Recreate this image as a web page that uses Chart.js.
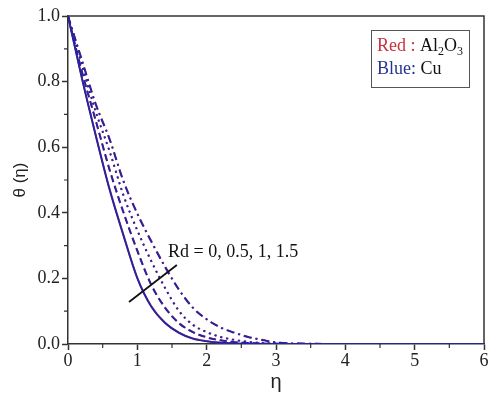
<!DOCTYPE html>
<html>
<head>
<meta charset="utf-8">
<script src="https://cdn.jsdelivr.net/npm/chart.js@4.4.1/dist/chart.umd.min.js"></script>
<style>
  html, body { margin: 0; padding: 0; background: #fff; }
  #wrap { width: 489px; height: 394px; }
</style>
</head>
<body>
<div id="wrap"><canvas id="tempChart" width="489" height="394"></canvas></div>
<script>
// eta grid and theta(eta)
var eta = [0, 0.2, 0.4, 0.6, 0.8, 1.0, 1.2, 1.4, 1.6, 1.8, 2.0, 2.2, 2.4, 2.6, 2.8, 3.0, 3.5, 4, 5, 6];

// Cu (blue)
var cuRd0  = [1, 0.810, 0.635, 0.470, 0.330, 0.200, 0.114, 0.064, 0.034, 0.016, 0.008, 0.004, 0.002, 0.001, 0.0005, 0, 0, 0, 0, 0];
var cuRd05 = [1, 0.830, 0.680, 0.530, 0.400, 0.283, 0.180, 0.110, 0.063, 0.036, 0.020, 0.011, 0.006, 0.003, 0.0015, 0.001, 0, 0, 0, 0];
var cuRd1  = [1, 0.850, 0.707, 0.586, 0.452, 0.345, 0.252, 0.170, 0.100, 0.058, 0.036, 0.021, 0.012, 0.006, 0.003, 0.0015, 0, 0, 0, 0];
var cuRd15 = [1, 0.865, 0.730, 0.623, 0.495, 0.396, 0.312, 0.234, 0.165, 0.110, 0.075, 0.050, 0.034, 0.021, 0.012, 0.005, 0.001, 0, 0, 0];

// Al2O3 (red)
var alRd0  = [1, 0.812, 0.638, 0.473, 0.333, 0.202, 0.116, 0.065, 0.035, 0.017, 0.009, 0.004, 0.002, 0.001, 0.0005, 0, 0, 0, 0, 0];
var alRd05 = [1, 0.832, 0.683, 0.533, 0.403, 0.286, 0.182, 0.112, 0.065, 0.037, 0.021, 0.012, 0.006, 0.003, 0.0015, 0.001, 0, 0, 0, 0];
var alRd1  = [1, 0.852, 0.710, 0.589, 0.455, 0.348, 0.255, 0.172, 0.102, 0.060, 0.037, 0.022, 0.013, 0.007, 0.003, 0.0015, 0, 0, 0, 0];
var alRd15 = [1, 0.867, 0.733, 0.626, 0.498, 0.399, 0.315, 0.237, 0.167, 0.112, 0.076, 0.051, 0.035, 0.022, 0.013, 0.005, 0.001, 0, 0, 0];

var rdLabels = ['Rd = 0', 'Rd = 0.5', 'Rd = 1', 'Rd = 1.5'];
var dashes = [[], [7, 4], [2, 4], [8, 4, 2, 4]];

var xTicks = [0, 1, 2, 3, 4, 5, 6];
var yTicks = [0, 0.2, 0.4, 0.6, 0.8, 1.0];

// annotation line crossing the curves, and its label
var annotFrom = [0.88, 0.128];
var annotTo = [1.57, 0.241];
var annotText = 'Rd = 0, 0.5, 1, 1.5';

var RED = '#a0286e';
var BLUE = '#2424a0';

function pts(ys) {
  return eta.map(function (x, i) { return { x: x, y: ys[i] }; });
}

var alSets = [alRd0, alRd05, alRd1, alRd15];
var cuSets = [cuRd0, cuRd05, cuRd1, cuRd15];
var datasets = [];
// red (Al2O3) underneath, blue (Cu) on top
alSets.forEach(function (s, i) {
  datasets.push({ label: 'Al2O3 ' + rdLabels[i], data: pts(s), borderColor: RED, borderWidth: 1.8, borderDash: dashes[i], order: 2 });
});
cuSets.forEach(function (s, i) {
  datasets.push({ label: 'Cu ' + rdLabels[i], data: pts(s), borderColor: BLUE, borderWidth: 1.8, borderDash: dashes[i], order: 1 });
});
datasets.forEach(function (d) {
  d.pointRadius = 0;
  d.fill = false;
  d.cubicInterpolationMode = 'monotone';
});

var serif = '"Liberation Serif"';
var sans = '"Liberation Sans"';
var AX = '#333';

// frame, minor ticks, annotation and the little legend box
var extras = {
  id: 'extras',
  afterDraw: function (chart) {
    var c = chart.ctx, a = chart.chartArea;
    var xs = chart.scales.x, ys = chart.scales.y;
    c.save();
    c.strokeStyle = AX;
    c.lineWidth = 1.5;
    c.beginPath();
    c.moveTo(a.left, a.top); c.lineTo(a.right, a.top); c.lineTo(a.right, a.bottom);
    c.stroke();

    // minor ticks
    c.lineWidth = 1.2;
    c.beginPath();
    for (var v = 0.5; v < 6; v += 1) {
      var px = xs.getPixelForValue(v);
      c.moveTo(px, a.bottom); c.lineTo(px, a.bottom + 4);
    }
    for (var w = 0.1; w < 1; w += 0.2) {
      var py = ys.getPixelForValue(w);
      c.moveTo(a.left, py); c.lineTo(a.left - 4, py);
    }
    c.stroke();

    // annotation line
    c.strokeStyle = '#111';
    c.lineWidth = 1.8;
    c.beginPath();
    c.moveTo(xs.getPixelForValue(annotFrom[0]), ys.getPixelForValue(annotFrom[1]));
    c.lineTo(xs.getPixelForValue(annotTo[0]), ys.getPixelForValue(annotTo[1]));
    c.stroke();
    c.fillStyle = '#111';
    c.font = '18px ' + serif;
    c.textBaseline = 'alphabetic';
    c.fillText(annotText, 168, 257);

    // legend box
    c.strokeStyle = '#555';
    c.lineWidth = 1;
    c.strokeRect(371.5, 30.5, 98, 57);
    var x = 377, y = 51;
    function put(t, col, f, dy) {
      c.font = f;
      c.fillStyle = col;
      c.fillText(t, x, y + (dy || 0));
      x += c.measureText(t).width;
    }
    var big = '18px ' + serif, small = '12px ' + serif;
    put('Red : ', '#c8323c', big);
    put('Al', '#111', big);
    put('2', '#111', small, 4);
    put('O', '#111', big);
    put('3', '#111', small, 4);
    x = 377; y = 74;
    put('Blue:', '#2a3290', big);
    put(' Cu', '#111', big);
    c.restore();
  }
};

function draw() {
  var ctx = document.getElementById('tempChart').getContext('2d');
  var myChart = new Chart(ctx, {
    type: 'line',
    data: { datasets: datasets },
    options: {
      responsive: false,
      animation: false,
      layout: { padding: { top: 16, right: 5, left: 0, bottom: 0 } },
      plugins: { legend: { display: false }, tooltip: { enabled: false } },
      scales: {
        x: {
          type: 'linear', min: 0, max: 6,
          afterBuildTicks: function (s) { s.ticks = xTicks.map(function (v) { return { value: v }; }); },
          afterFit: function (s) { s.height = 50; },
          ticks: { color: '#222', font: { family: serif, size: 18 }, padding: 0 },
          grid: { drawOnChartArea: false, tickLength: 6, tickColor: AX, tickWidth: 1.5 },
          border: { color: AX, width: 1.5 },
          title: { display: true, text: 'η', color: '#222', font: { family: sans, size: 20 }, padding: { top: 0, bottom: 0 } }
        },
        y: {
          type: 'linear', min: 0, max: 1,
          afterBuildTicks: function (s) { s.ticks = yTicks.map(function (v) { return { value: v }; }); },
          afterFit: function (s) { s.width = 68; },
          ticks: { color: '#222', font: { family: serif, size: 18 }, padding: 2, callback: function (v) { return v.toFixed(1); } },
          grid: { drawOnChartArea: false, tickLength: 6, tickColor: AX, tickWidth: 1.5 },
          border: { color: AX, width: 1.5 },
          title: { display: true, text: 'θ (η)', color: '#222', font: { family: sans, size: 17 }, padding: { top: 10, bottom: 4 } }
        }
      }
    },
    plugins: [extras]
  });
}

Promise.all([
  document.fonts.load('18px "Liberation Serif"'),
  document.fonts.load('18px "Liberation Sans"')
]).then(draw, draw);
</script>
</body>
</html>
